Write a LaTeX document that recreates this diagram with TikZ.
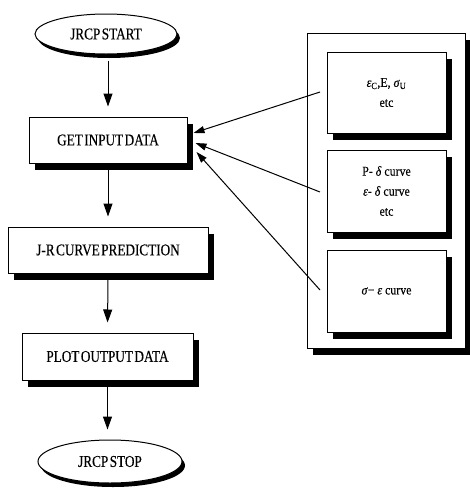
\documentclass[tikz,border=0pt]{standalone}
\usepackage{fontspec}
\setmainfont{Liberation Serif}
\newfontfamily\cond[FakeStretch=0.8,WordSpace=0.45,FakeBold=0.25]{Liberation Serif}
\newfontfamily\condb[FakeStretch=0.88,FakeBold=0.15]{Liberation Serif}
\usetikzlibrary{shapes.geometric,shadows,arrows.meta}
\tikzset{
  shad/.style={drop shadow={shadow xshift=6pt,shadow yshift=-7pt,fill=black,opacity=1}},
  eshad/.style={drop shadow={shadow xshift=3pt,shadow yshift=-4pt,fill=black,opacity=1}},
  proc/.style={draw,line width=1pt,fill=white,shad,inner sep=0pt,font=\cond\fontsize{16.5}{18}\selectfont},
  term/.style={ellipse,draw,line width=1pt,fill=white,eshad,inner sep=0pt,font=\cond\fontsize{16.5}{18}\selectfont},
  inbox/.style={draw,line width=1pt,fill=white,shad,inner sep=0pt,minimum width=119pt,align=center,font=\condb\fontsize{13.5}{20}\selectfont},
  flow/.style={line width=1pt,-{Triangle[length=13pt,width=9pt]},shorten >=10pt,shorten <=6pt},
  feed/.style={line width=1pt,-{Triangle[length=11pt,width=7pt]}},
}
\begin{document}
\begin{tikzpicture}[x=1pt,y=-1pt]
\useasboundingbox (0,0) rectangle (469,493);
% right panel
\node[draw,line width=1pt,fill=white,shad,minimum width=158pt,minimum height=315pt,inner sep=0pt] (panel) at (386,190.5) {};
\node[inbox,minimum height=81pt] (in1) at (386.5,92.5) {\textit{ε}\textsubscript{C},E, \textit{σ}\textsubscript{U}\\etc};
\node[inbox,minimum height=82pt] (in2) at (386.5,191) {P- \textit{δ} curve\\\textit{ε}- \textit{δ} curve\\etc};
\node[inbox,minimum height=82pt] (in3) at (386.5,291) {\textit{σ}− \textit{ε} curve};
% flow
\node[term,minimum width=142pt,minimum height=40pt] (start) at (106,34) {JRCP START};
\node[proc,minimum width=158pt,minimum height=46pt] (input) at (108,140) {GET INPUT DATA};
\node[proc,minimum width=200pt,minimum height=46pt] (jr) at (108,250) {J-R CURVE PREDICTION};
\node[proc,minimum width=171pt,minimum height=47pt] (plot) at (107.5,356.5) {PLOT OUTPUT DATA};
\node[term,minimum width=144pt,minimum height=43pt] (stop) at (110,461.5) {JRCP STOP};
\draw[flow] (start.south -| input.north) -- (input.north);
\draw[flow] (input.south) -- (jr.north);
\draw[flow] (jr.south) -- (plot.north);
\draw[flow] (plot.south) -- (stop.north -| plot.south);
% feed arrows
\coordinate (s1) at (320,92);
\coordinate (s2) at (320,192);
\coordinate (s3) at (320,290);
\draw[feed] (s1) -- ([shift={(6,-7)}]input.east);
\draw[feed] (s2) -- ([shift={(8,3)}]input.east);
\draw[feed] (s3) -- ([shift={(9,12)}]input.east);
\end{tikzpicture}
\end{document}
